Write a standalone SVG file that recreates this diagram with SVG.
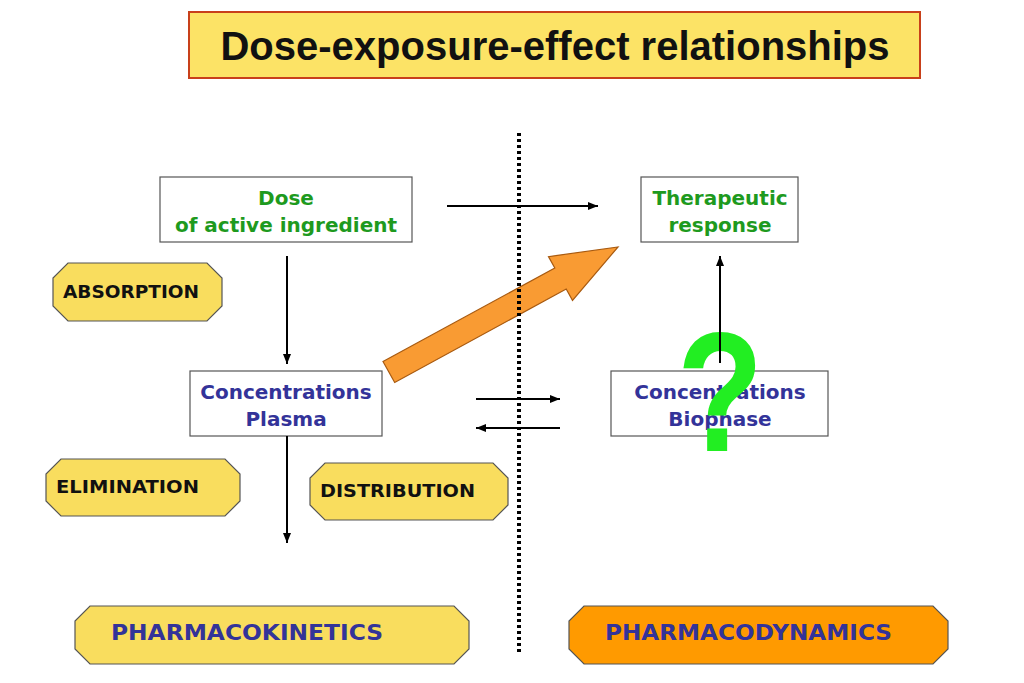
<svg xmlns="http://www.w3.org/2000/svg" width="1024" height="683" viewBox="0 0 1024 683">
<defs>
<style>
.box{fill:#fff;stroke:#555;stroke-width:1.2}
.oct{fill:#F9DD5E;stroke:#555;stroke-width:1.2}
.t{font-family:"DejaVu Sans",Verdana,sans-serif;font-weight:bold}
.g{fill:#1E9A1E;font-size:20px}
.b{fill:#333399;font-size:20px}
.k{fill:#111;font-size:18px}
.line{stroke:#000;stroke-width:2;fill:none}
</style>
<marker id="ah" viewBox="0 0 10 10" refX="10" refY="5" markerWidth="5" markerHeight="5" orient="auto" markerUnits="strokeWidth">
<path d="M0,1 L10,5 L0,9 Z" fill="#000"/>
</marker>
</defs>
<rect width="1024" height="683" fill="#fff"/>
<g id="title">
<rect x="189" y="12" width="731" height="66" fill="#FCE366" stroke="#C8401A" stroke-width="2"/>
<text x="555" y="60" text-anchor="middle" font-family="Liberation Sans,Arial,sans-serif" font-weight="bold" font-size="40" fill="#111">Dose-exposure-effect relationships</text>
</g>
<g id="dose">
<rect class="box" x="160" y="177" width="252" height="65"/>
<text class="t g" x="286" y="205" text-anchor="middle">Dose</text>
<text class="t g" x="286" y="232" text-anchor="middle">of active ingredient</text>
</g>
<g id="therapeutic">
<rect class="box" x="641" y="177" width="157" height="65"/>
<text class="t g" x="720" y="205" text-anchor="middle">Therapeutic</text>
<text class="t g" x="720" y="232" text-anchor="middle">response</text>
</g>
<g id="absorption">
<polygon class="oct" points="68,263 207,263 222,278 222,306 207,321 68,321 53,306 53,278"/>
<text class="t k" x="63" y="298" textLength="136" lengthAdjust="spacingAndGlyphs">ABSORPTION</text>
</g>
<g id="plasma">
<rect class="box" x="190" y="371" width="192" height="65"/>
<text class="t b" x="286" y="399" text-anchor="middle">Concentrations</text>
<text class="t b" x="286" y="426" text-anchor="middle">Plasma</text>
</g>
<g id="biophase">
<rect class="box" x="611" y="371" width="217" height="65"/>
<text class="t b" x="720" y="399" text-anchor="middle">Concentrations</text>
<text class="t b" x="720" y="426" text-anchor="middle">Biophase</text>
</g>
<g id="question">
<text transform="translate(720,451) scale(0.84,1.02)" x="0" y="0" text-anchor="middle" font-family="Liberation Sans,Arial,sans-serif" font-weight="bold" font-size="168" fill="#22EE22">?</text>
</g>
<g id="elimination">
<polygon class="oct" points="61,459 225,459 240,474 240,501 225,516 61,516 46,501 46,474"/>
<text class="t k" x="56" y="493" textLength="143" lengthAdjust="spacingAndGlyphs">ELIMINATION</text>
</g>
<g id="distribution">
<polygon class="oct" points="325,463 493,463 508,478 508,505 493,520 325,520 310,505 310,478"/>
<text class="t k" x="320" y="497" textLength="155" lengthAdjust="spacingAndGlyphs">DISTRIBUTION</text>
</g>
<g id="pk">
<polygon class="oct" points="90,606 454,606 469,621 469,649 454,664 90,664 75,649 75,621"/>
<text class="t" x="111" y="640" font-size="22" fill="#333399" textLength="272" lengthAdjust="spacingAndGlyphs">PHARMACOKINETICS</text>
</g>
<g id="pd">
<polygon points="584,606 933,606 948,621 948,649 933,664 584,664 569,649 569,621" fill="#FF9A00" stroke="#555" stroke-width="1.2"/>
<text class="t" x="605" y="640" font-size="22" fill="#333399" textLength="287" lengthAdjust="spacingAndGlyphs">PHARMACODYNAMICS</text>
</g>
<g id="connectors">
<line class="line" x1="447" y1="206" x2="598" y2="206" marker-end="url(#ah)"/>
<line class="line" x1="287" y1="256" x2="287" y2="364" marker-end="url(#ah)"/>
<line class="line" x1="287" y1="436" x2="287" y2="543" marker-end="url(#ah)"/>
<line class="line" x1="476" y1="399" x2="560" y2="399" marker-end="url(#ah)"/>
<line class="line" x1="560" y1="428" x2="476" y2="428" marker-end="url(#ah)"/>
<line class="line" x1="720" y1="363" x2="720" y2="256" marker-end="url(#ah)"/>
<polygon id="bigArrow" points="383,361.5 554.8,268 548.5,256.6 618,247 572.5,300.4 566.2,289 394.7,382.5" fill="#F99B33" stroke="#A85A10" stroke-width="1.2"/>
</g>
<g id="divider">
<line x1="519" y1="133" x2="519" y2="653" stroke="#000" stroke-width="4" stroke-dasharray="3,3"/>
</g>
</svg>
